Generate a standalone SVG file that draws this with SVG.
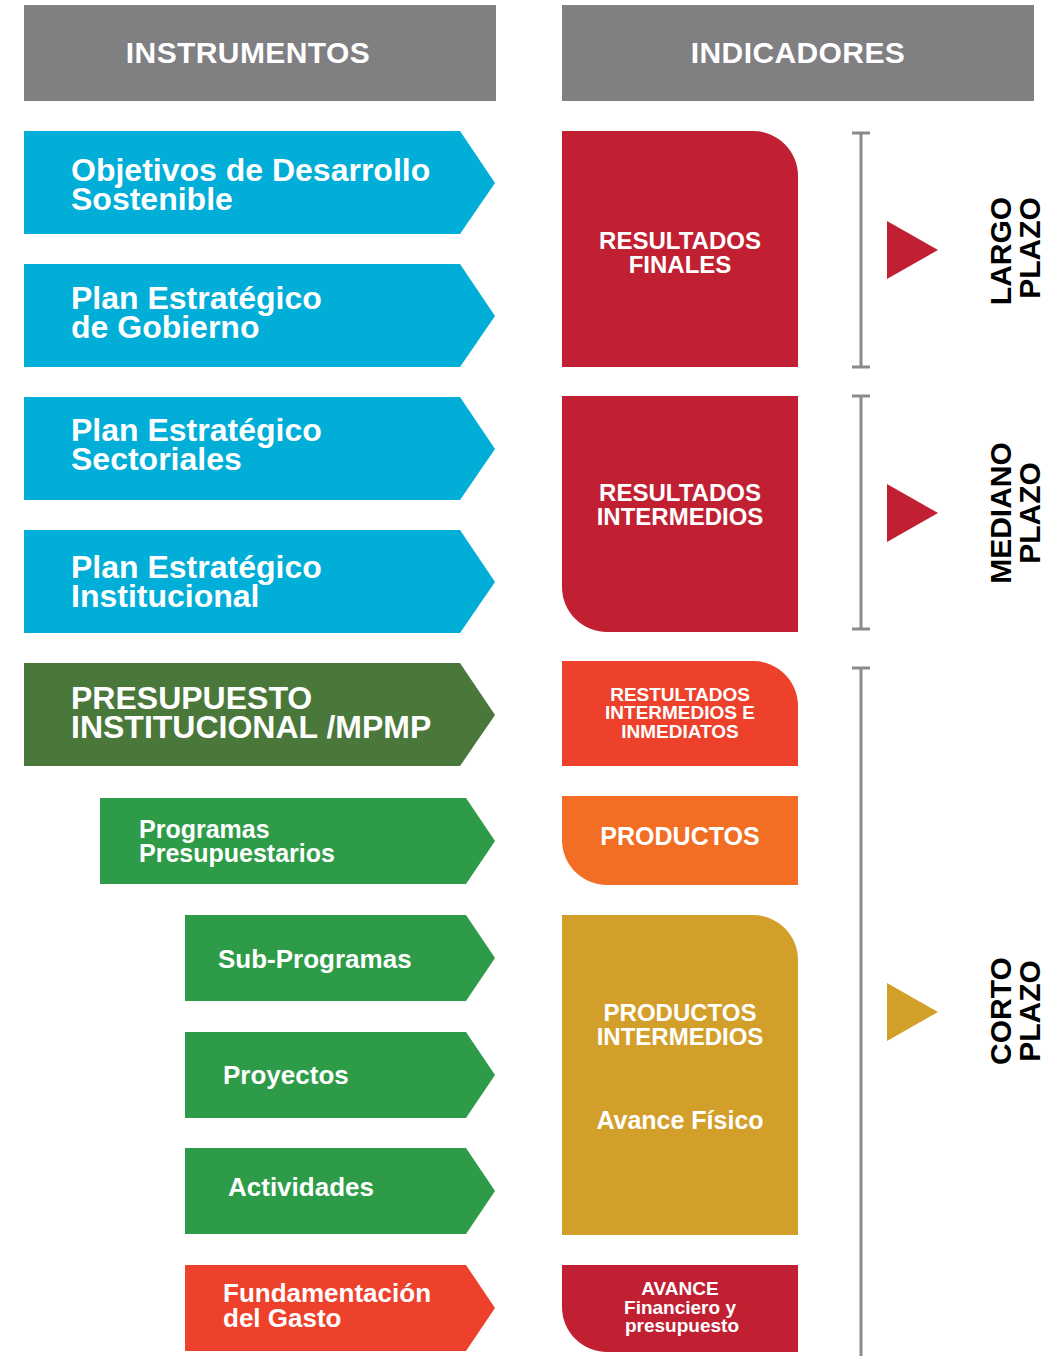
<svg xmlns="http://www.w3.org/2000/svg" width="1052" height="1356" viewBox="0 0 1052 1356">
<style>
text{font-family:"Liberation Sans",Arial,sans-serif;font-weight:bold;fill:#fff}
.hd{font-size:30px;text-anchor:middle;letter-spacing:0.4px}
.a{font-size:32px}
.g{font-size:25px}
.g2{font-size:26px}
.c{text-anchor:middle}
.v{font-size:30px;fill:#000;text-anchor:middle}
.blue{fill:#00aed8}
.dg{fill:#4a773a}
.gr{fill:#2e9b48}
.or{fill:#ee412b}
.red{fill:#c12033}
.org{fill:#f26e25}
.gold{fill:#d39f2b}
.br{stroke:#8a8a8e;stroke-width:3;fill:none}
</style>
<rect width="1052" height="1356" fill="#fff"/>
<g id="hdr-instrumentos"><rect x="24" y="5" width="472" height="96" fill="#808083"/><text class="hd" x="248" y="63">INSTRUMENTOS</text></g>
<g id="hdr-indicadores"><rect x="562" y="5" width="472" height="96" fill="#808083"/><text class="hd" x="798" y="63">INDICADORES</text></g>

<g id="ods"><path class="blue" d="M24,131H460L495,183L460,234H24Z"/><text class="a" x="71" y="181">Objetivos de Desarrollo<tspan x="71" y="210">Sostenible</tspan></text></g>
<g id="peg"><path class="blue" d="M24,264H460L495,316L460,367H24Z"/><text class="a" x="71" y="309">Plan Estratégico<tspan x="71" y="338">de Gobierno</tspan></text></g>
<g id="pes"><path class="blue" d="M24,397H460L495,449L460,500H24Z"/><text class="a" x="71" y="441">Plan Estratégico<tspan x="71" y="470">Sectoriales</tspan></text></g>
<g id="pei"><path class="blue" d="M24,530H460L495,582L460,633H24Z"/><text class="a" x="71" y="578">Plan Estratégico<tspan x="71" y="607">Institucional</tspan></text></g>
<g id="presupuesto"><path class="dg" d="M24,663H460L495,715L460,766H24Z"/><text class="a" x="71" y="709">PRESUPUESTO<tspan x="71" y="738">INSTITUCIONAL /MPMP</tspan></text></g>
<g id="programas"><path class="gr" d="M100,798H466L495,841L466,884H100Z"/><text class="g" x="139" y="838">Programas<tspan x="139" y="862">Presupuestarios</tspan></text></g>
<g id="subprogramas"><path class="gr" d="M185,915H466L495,958L466,1001H185Z"/><text class="g2" x="218" y="968">Sub-Programas</text></g>
<g id="proyectos"><path class="gr" d="M185,1032H466L495,1075L466,1118H185Z"/><text class="g2" x="223" y="1084">Proyectos</text></g>
<g id="actividades"><path class="gr" d="M185,1148H466L495,1191L466,1234H185Z"/><text class="g2" x="228" y="1196">Actividades</text></g>
<g id="fundamentacion"><path class="or" d="M185,1265H466L495,1308L466,1351H185Z"/><text class="g2" x="223" y="1302">Fundamentación<tspan x="223" y="1327">del Gasto</tspan></text></g>

<g id="res-finales"><path class="red" d="M562,131H753A45,45 0 0 1 798,176V367H562Z"/><text class="c" x="680" y="249" style="font-size:24px">RESULTADOS<tspan x="680" y="273">FINALES</tspan></text></g>
<g id="res-intermedios"><path class="red" d="M562,396H798V632H607A45,45 0 0 1 562,587Z"/><text class="c" x="680" y="501" style="font-size:24px">RESULTADOS<tspan x="680" y="525">INTERMEDIOS</tspan></text></g>
<g id="res-inmediatos"><path class="or" d="M562,661H753A45,45 0 0 1 798,706V766H562Z"/><text class="c" x="680" y="701" style="font-size:19px">RESTULTADOS<tspan x="680" y="719">INTERMEDIOS E</tspan><tspan x="680" y="738">INMEDIATOS</tspan></text></g>
<g id="productos"><path class="org" d="M562,796H798V885H607A45,45 0 0 1 562,840Z"/><text class="c" x="680" y="845" style="font-size:25px">PRODUCTOS</text></g>
<g id="productos-intermedios"><path class="gold" d="M562,915H753A45,45 0 0 1 798,960V1235H562Z"/><text class="c" x="680" y="1021" style="font-size:24px">PRODUCTOS<tspan x="680" y="1045">INTERMEDIOS</tspan></text><text class="c" x="680" y="1129" style="font-size:25px">Avance Físico</text></g>
<g id="avance"><path class="red" d="M562,1265H798V1352H607A45,45 0 0 1 562,1307Z"/><text class="c" x="680" y="1295" style="font-size:19px">AVANCE<tspan x="680" y="1314">Financiero y</tspan><tspan x="682" y="1332">presupuesto</tspan></text></g>

<g id="connectors">
<path class="br" d="M861,133V367M852,133H870M852,367H870"/>
<path class="br" d="M861,396V629M852,396H870M852,629H870"/>
<path class="br" d="M861,668V1356M852,668H870"/>
</g>

<g id="largo"><polygon class="red" points="887,221 938,250 887,279"/><text class="v" transform="translate(1011,251) rotate(-90)">LARGO<tspan x="0" y="29" dx="3">PLAZO</tspan></text></g>
<g id="mediano"><polygon class="red" points="887,484 938,513 887,542"/><text class="v" transform="translate(1011,513) rotate(-90)">MEDIANO<tspan x="0" y="29">PLAZO</tspan></text></g>
<g id="corto"><polygon class="gold" points="887,983 938,1012 887,1041"/><text class="v" transform="translate(1011,1011) rotate(-90)">CORTO<tspan x="0" y="29">PLAZO</tspan></text></g>
</svg>
